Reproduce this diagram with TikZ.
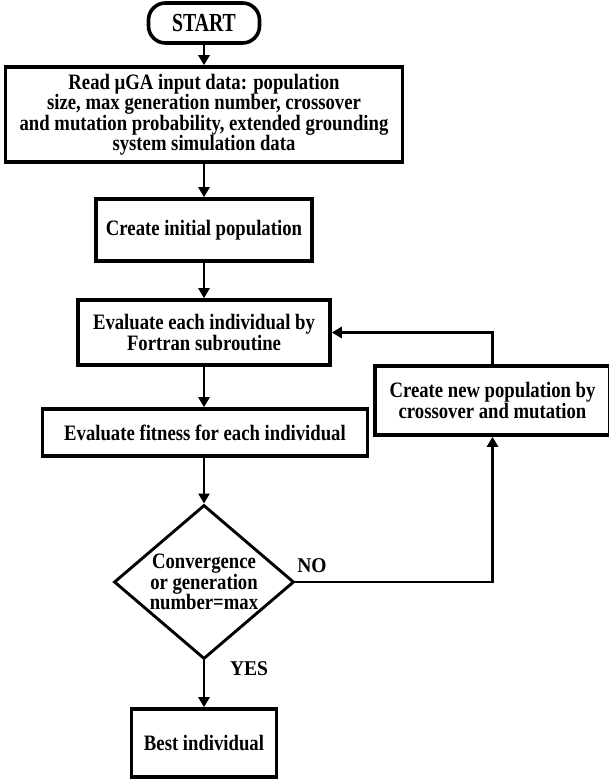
\documentclass[tikz,border=0pt]{standalone}
\usepackage{fontspec}
\setmainfont{Liberation Serif}[FakeStretch=0.85]
\newfontfamily\startfont{Liberation Serif}[FakeStretch=0.76]
\newfontfamily\labfont{Liberation Serif}[FakeStretch=0.93]
\usetikzlibrary{arrows.meta,shapes.geometric}
\begin{document}
\begin{tikzpicture}[x=1pt,y=1pt,
  box/.style={draw, line width=3.6pt, align=center, inner sep=0pt,
    font=\bfseries\fontsize{22}{20.5}\selectfont},
  arr/.style={line width=2.8pt, -{Triangle[length=10pt,width=11pt]}},
  lbl/.style={font=\labfont\bfseries\fontsize{21}{22}\selectfont, inner sep=0pt}]
\useasboundingbox (0,0) rectangle (608,-783);

\node[box, rounded corners=17pt, minimum width=111pt, minimum height=40pt,
  font=\startfont\bfseries\fontsize{26}{28}\selectfont] (start) at (204,-23) {START};

\node[box, minimum width=397pt, minimum height=95pt] (read) at (204,-114.5)
  {Read µGA input data: population\\
   size, max generation number, crossover\\
   and mutation probability, extended grounding\\
   system simulation data};

\node[box, minimum width=216pt, minimum height=62pt] (init) at (204,-230)
  {Create initial population};

\node[box, minimum width=252pt, minimum height=65pt] (eval) at (204,-332.5)
  {Evaluate each individual by\\ Fortran subroutine};

\node[box, minimum width=235pt, minimum height=69pt] (newpop) at (492.5,-400.5)
  {Create new population by\\ crossover and mutation};

\node[box, minimum width=325pt, minimum height=47pt] (fit) at (205,-432.5)
  {Evaluate fitness for each individual};

\node[box, diamond, aspect=1.17, line width=2.9pt, inner sep=-6pt,
  minimum width=180pt, minimum height=154pt] (dec) at (204,-582)
  {Convergence\\ or generation\\ number=max};

\node[box, minimum width=145pt, minimum height=68pt] (best) at (204,-743)
  {Best individual};

\node[lbl] (no) at (312,-566) {NO};
\node[lbl] (yes) at (249,-669) {YES};

\draw[arr] (start) -- (read);
\draw[arr] (read) -- (init);
\draw[arr] (init) -- (eval);
\draw[arr] (eval.south) -- (eval.south |- fit.north);
\draw[arr] (fit.south -| dec.north) -- (dec.north);
\draw[arr] (dec) -- (best);
\draw[arr] (dec.east) -| (newpop.south);
\draw[arr] (newpop.north) |- (eval.east);
\end{tikzpicture}
\end{document}
